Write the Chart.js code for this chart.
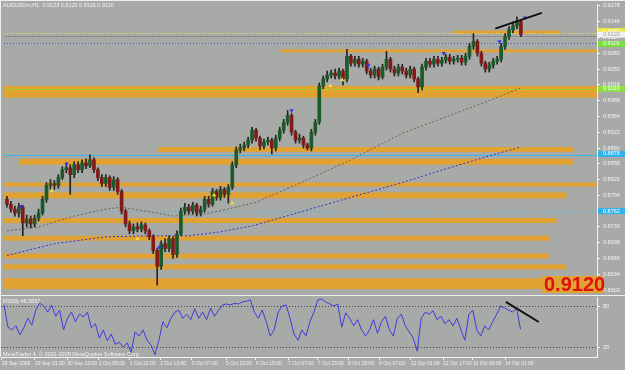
<!DOCTYPE html>
<html>
<head>
<meta charset="utf-8">
<script src="https://cdn.jsdelivr.net/npm/chart.js@4.4.1/dist/chart.umd.min.js"></script>
<style>
body { margin: 0; background: #a8aaa7; }
#wrap { position: relative; width: 625px; height: 370px; overflow: hidden; }
#main { position: absolute; left: 0; top: 0; }
#rsi { position: absolute; left: 0; top: 296px; }
</style>
</head>
<body>
<div id="wrap">
  <canvas id="main" width="625" height="296"></canvas>
  <canvas id="rsi" width="625" height="74"></canvas>
</div>
<script>
// AUDUSDm H1 candles (one candle per slot)
const candleOpen = [
  0.8786,0.8776,0.8766,0.8758,0.8770,0.8738,0.8746,0.8736,0.8748,0.8758,
  0.8786,0.8814,0.8818,0.8814,0.8830,0.8846,0.8850,0.8836,0.8856,0.8846,
  0.8860,0.8854,0.8866,0.8846,0.8830,0.8818,0.8830,0.8810,0.8826,0.8802,
  0.8762,0.8736,0.8722,0.8730,0.8726,0.8734,0.8722,0.8710,0.8682,0.8650,
  0.8696,0.8686,0.8706,0.8674,0.8716,0.8762,0.8770,0.8762,0.8774,0.8758,
  0.8766,0.8786,0.8776,0.8802,0.8790,0.8806,0.8796,0.8810,0.8856,0.8886,
  0.8890,0.8896,0.8906,0.8926,0.8910,0.8894,0.8902,0.8906,0.8890,0.8910,
  0.8926,0.8942,0.8956,0.8922,0.8906,0.8910,0.8896,0.8890,0.8922,0.8942,
  0.9016,0.9030,0.9038,0.9042,0.9036,0.9046,0.9030,0.9076,0.9062,0.9070,
  0.9060,0.9066,0.9046,0.9038,0.9050,0.9034,0.9054,0.9070,0.9050,0.9042,
  0.9054,0.9046,0.9038,0.9050,0.9030,0.9014,0.9054,0.9066,0.9060,0.9070,
  0.9062,0.9068,0.9074,0.9066,0.9070,0.9072,0.9064,0.9076,0.9096,0.9106,
  0.9082,0.9062,0.9050,0.9058,0.9066,0.9070,0.9096,0.9116,0.9130,0.9138,
  0.9146
];
const candleHigh = [
  0.8792,0.8782,0.8772,0.8778,0.8774,0.8754,0.8752,0.8754,0.8766,0.8792,
  0.8820,0.8826,0.8824,0.8836,0.8852,0.8858,0.8856,0.8862,0.8862,0.8866,
  0.8868,0.8876,0.8870,0.8850,0.8836,0.8836,0.8834,0.8832,0.8830,0.8806,
  0.8766,0.8742,0.8736,0.8738,0.8740,0.8738,0.8726,0.8714,0.8686,0.8702,
  0.8706,0.8712,0.8710,0.8722,0.8768,0.8778,0.8776,0.8780,0.8778,0.8772,
  0.8792,0.8792,0.8808,0.8806,0.8812,0.8810,0.8816,0.8862,0.8892,0.8898,
  0.8902,0.8912,0.8932,0.8930,0.8914,0.8908,0.8912,0.8910,0.8916,0.8932,
  0.8948,0.8966,0.8960,0.8926,0.8918,0.8914,0.8900,0.8928,0.8948,0.9022,
  0.9036,0.9046,0.9048,0.9050,0.9052,0.9050,0.9090,0.9080,0.9076,0.9076,
  0.9072,0.9070,0.9052,0.9056,0.9054,0.9060,0.9086,0.9074,0.9056,0.9060,
  0.9060,0.9052,0.9056,0.9054,0.9034,0.9060,0.9072,0.9072,0.9076,0.9076,
  0.9074,0.9080,0.9080,0.9076,0.9078,0.9078,0.9082,0.9102,0.9122,0.9110,
  0.9086,0.9066,0.9064,0.9072,0.9076,0.9102,0.9122,0.9136,0.9146,0.9156,
  0.9150
];
const candleLow = [
  0.8770,0.8760,0.8752,0.8750,0.8712,0.8730,0.8728,0.8730,0.8742,0.8754,
  0.8780,0.8806,0.8806,0.8808,0.8826,0.8840,0.8796,0.8830,0.8840,0.8840,
  0.8848,0.8850,0.8840,0.8824,0.8812,0.8812,0.8804,0.8804,0.8796,0.8756,
  0.8730,0.8716,0.8716,0.8720,0.8720,0.8716,0.8704,0.8676,0.8612,0.8644,
  0.8680,0.8680,0.8666,0.8668,0.8712,0.8756,0.8756,0.8756,0.8752,0.8752,
  0.8760,0.8770,0.8772,0.8784,0.8784,0.8790,0.8778,0.8806,0.8850,0.8880,
  0.8884,0.8890,0.8900,0.8904,0.8886,0.8888,0.8896,0.8878,0.8884,0.8904,
  0.8920,0.8936,0.8916,0.8900,0.8900,0.8890,0.8886,0.8884,0.8916,0.8938,
  0.9010,0.9024,0.9032,0.9030,0.9030,0.9018,0.9024,0.9056,0.9056,0.9054,
  0.9054,0.9040,0.9032,0.9032,0.9028,0.9030,0.9048,0.9044,0.9036,0.9036,
  0.9040,0.9032,0.9032,0.9024,0.9002,0.9008,0.9048,0.9054,0.9054,0.9056,
  0.9056,0.9062,0.9060,0.9060,0.9064,0.9058,0.9058,0.9070,0.9090,0.9076,
  0.9056,0.9044,0.9044,0.9052,0.9060,0.9064,0.9090,0.9110,0.9124,0.9132,
  0.9116
];
const candleClose = [
  0.8776,0.8766,0.8758,0.8770,0.8738,0.8746,0.8736,0.8748,0.8758,0.8786,
  0.8814,0.8818,0.8814,0.8830,0.8846,0.8850,0.8836,0.8856,0.8846,0.8860,
  0.8854,0.8866,0.8846,0.8830,0.8818,0.8830,0.8810,0.8826,0.8802,0.8762,
  0.8736,0.8722,0.8730,0.8726,0.8734,0.8722,0.8710,0.8682,0.8650,0.8696,
  0.8686,0.8706,0.8674,0.8716,0.8762,0.8770,0.8762,0.8774,0.8758,0.8766,
  0.8786,0.8776,0.8802,0.8790,0.8806,0.8796,0.8810,0.8856,0.8886,0.8890,
  0.8896,0.8906,0.8926,0.8910,0.8894,0.8902,0.8906,0.8890,0.8910,0.8926,
  0.8942,0.8956,0.8922,0.8906,0.8910,0.8896,0.8890,0.8922,0.8942,0.9016,
  0.9030,0.9038,0.9042,0.9036,0.9046,0.9030,0.9076,0.9062,0.9070,0.9060,
  0.9066,0.9046,0.9038,0.9050,0.9034,0.9054,0.9070,0.9050,0.9042,0.9054,
  0.9046,0.9038,0.9050,0.9030,0.9014,0.9054,0.9066,0.9060,0.9070,0.9062,
  0.9068,0.9074,0.9066,0.9070,0.9072,0.9064,0.9076,0.9096,0.9106,0.9082,
  0.9062,0.9050,0.9058,0.9066,0.9070,0.9096,0.9116,0.9130,0.9138,0.9146,
  0.9120
];

// RSI(9), same slots as the candles
const rsiValues = [
  81.5,49,45,51,38,48,62,52,74,84,
  80,71,81,65,74,45,62,71,57,68,
  64,71,48,54,33,45,29,39,24,27,
  20,26,12,42,36,45,30,23,9,30,
  57,48,62,71,74,62,68,60,76,62,
  71,60,77,65,74,81.5,83,81.5,84,83,
  86,87,89,71,62,74,57,36,45,71,
  80,81.5,62,39,30,45,36,57,71,89,
  90,86,83,80,83,49,70,62,51,60,
  45,36,45,60,40,57,65,45,36,62,
  68,51,42,33,14,62,71,68,73,60,
  65,54,60,51,62,45,30,68,74,45,
  36,51,45,57,68,80,77,74,71,77,
  46
];

// moving averages (dotted), read at a few slots
const maSlowIdx = [0, 8, 17, 25, 29, 35, 42, 50, 58, 63, 75, 87, 100, 112, 122, 130];
const maSlowVal = [0.8722, 0.8730, 0.8752, 0.8766, 0.8770, 0.8762, 0.8752, 0.8756, 0.8770, 0.8780, 0.8822, 0.8866, 0.8920, 0.8956, 0.8986, 0.9012];
const maFastIdx = [0, 12, 25, 37, 46, 54, 62, 75, 87, 100, 112, 122, 130];
const maFastVal = [0.8672, 0.8696, 0.8710, 0.8712, 0.8712, 0.8720, 0.8732, 0.8762, 0.8790, 0.8820, 0.8850, 0.8874, 0.8892];

// fractal arrows
const upMarkIdx = [11.3, 33, 52.4, 57, 81.8, 84.8];
const upMarkVal = [0.8804, 0.8706, 0.8794, 0.8778, 0.9016, 0.9028];
const downMarkIdx = [3.5, 15.1, 38.5, 72, 91.4, 110.5, 124.6, 131];
const downMarkVal = [0.8772, 0.8858, 0.8688, 0.8966, 0.9058, 0.9082, 0.9106, 0.9154];

// drawn trend lines
const trendIdx = [123.5, 135.3];
const trendVal = [0.9132, 0.9164];
const rsiTrendIdx = [126.3, 134.6];
const rsiTrendVal = [85.9, 56.6];

// support / resistance zones: [top, bottom, fromSlot, toSlot]
const zones = [
  [0.9128, 0.9122, 113, 140],
  [0.9090, 0.9084, 69.2, 150],
  [0.9016, 0.8992, -1, 150],
  [0.8892, 0.8882, 38.3, 143.2],
  [0.8868, 0.8856, 3, 143.2],
  [0.8820, 0.8812, -1, 150],
  [0.8800, 0.8788, -1, 141.5],
  [0.8748, 0.8738, -1, 139],
  [0.8712, 0.8702, -1, 137.2],
  [0.8676, 0.8666, -1, 137.2],
  [0.8654, 0.8644, -1, 141.5],
  [0.8626, 0.8604, -1, 140]
];
const levelPrices = [0.9124, 0.9118, 0.9102, 0.9010, 0.8876, 0.8762];
const axisBoxPrices = [0.9127, 0.9120, 0.9101, 0.9010, 0.8878, 0.8762];
const axisBoxTexts = ['0.9127', '0.9120', '0.9101', '0.9010', '0.8878', '0.8762'];

const priceTicks = [0.9178, 0.9146, 0.9114, 0.9082, 0.9050, 0.9018, 0.8986, 0.8954, 0.8922, 0.8890,
  0.8858, 0.8826, 0.8794, 0.8762, 0.8730, 0.8698, 0.8666, 0.8634, 0.8602];
const rsiLevels = [80, 20];

const dateTickIdx = [-0.5, 7.8, 15.9, 23.9, 31.7, 39.3, 47.3, 55.9, 63.4, 71.5, 79, 86.6, 94.4, 102.4, 110.5, 118, 126.1];
const dateLabels = ['29 Sep 2009', '29 Sep 21:00', '30 Sep 13:00', '1 Oct 05:00', '1 Oct 21:00', '2 Oct 13:00',
  '5 Oct 07:00', '5 Oct 23:00', '6 Oct 15:00', '7 Oct 07:00', '7 Oct 23:00', '8 Oct 15:00', '9 Oct 07:00',
  '12 Oct 01:00', '12 Oct 17:00', '13 Oct 09:00', '14 Oct 01:00'];

const BG = '#a8aaa7';
const ZONE = '#e2a232';
const FONT = 'Liberation Sans';
const levelStyle = [
  { c: '#f2e63a', d: [1, 2] },
  { c: '#8c8e8c', d: [] },
  { c: '#3a5ad8', d: [1, 2] },
  { c: '#a6d22a', d: [] },
  { c: '#3cb2ea', d: [] },
  { c: '#3cb8f0', d: [1, 2] }
];
const boxColors = ['#f2ea3c', '#f2f2f2', '#7ade3c', '#8ee040', '#2eb2ee', '#2eb2ee'];

const X_MIN = -0.75, X_MAX = 149.25;

const slots = candleClose.map((_, i) => i);
const isBull = slots.map(i => candleClose[i] >= candleOpen[i]);
const pts = (xs, ys) => xs.map((v, i) => ({ x: v, y: ys[i] }));

const mainDeco = {
  id: 'mainDeco',
  beforeDraw(c) {
    const ctx = c.ctx;
    ctx.save();
    ctx.fillStyle = BG;
    ctx.fillRect(0, 0, c.width, c.height);
    ctx.restore();
  },
  beforeDatasetsDraw(c) {
    const { ctx, chartArea: a, scales: { x, y } } = c;
    ctx.save();
    ctx.beginPath();
    ctx.rect(a.left, a.top, a.right - a.left, a.bottom - a.top);
    ctx.clip();
    ctx.fillStyle = ZONE;
    zones.forEach(([t, b, s, e]) => {
      const x0 = x.getPixelForValue(s), x1 = x.getPixelForValue(e);
      const y0 = y.getPixelForValue(t), y1 = y.getPixelForValue(b);
      ctx.fillRect(x0, y0, x1 - x0, y1 - y0);
    });
    levelPrices.forEach((p, i) => {
      const py = Math.round(y.getPixelForValue(p)) + 0.5;
      ctx.strokeStyle = levelStyle[i].c;
      ctx.setLineDash(levelStyle[i].d);
      ctx.lineWidth = 1;
      ctx.beginPath();
      ctx.moveTo(a.left, py);
      ctx.lineTo(a.right, py);
      ctx.stroke();
    });
    ctx.restore();
  },
  afterDraw(c) {
    const { ctx, chartArea: a, scales: { y } } = c;
    ctx.save();
    // price boxes on the axis
    ctx.font = '5.5px "' + FONT + '"';
    ctx.textBaseline = 'middle';
    axisBoxPrices.forEach((p, i) => {
      const py = y.getPixelForValue(p);
      ctx.fillStyle = boxColors[i];
      ctx.fillRect(a.right + 1, py - 3, 27, 6);
      ctx.fillStyle = i === 1 ? '#9a9a9a' : '#ffffff';
      ctx.fillText(axisBoxTexts[i], a.right + 6, py);
    });
    // title
    ctx.fillStyle = '#f4f4f4';
    ctx.fillText('AUDUSDm,H1  0.9123 0.9125 0.9116 0.9120', 3, 5);
    // big price label
    ctx.fillStyle = ZONE;
    ctx.fillRect(541, 276, 63, 17);
    ctx.fillStyle = '#e01010';
    ctx.font = 'bold 20px "' + FONT + '"';
    ctx.textBaseline = 'alphabetic';
    ctx.fillText('0.9120', 544, 291);
    // frame
    ctx.strokeStyle = '#eeeeee';
    ctx.lineWidth = 1;
    ctx.beginPath();
    ctx.moveTo(0, 0.5); ctx.lineTo(c.width, 0.5);
    ctx.moveTo(0.5, 0); ctx.lineTo(0.5, c.height);
    ctx.moveTo(0, 295.5); ctx.lineTo(c.width, 295.5);
    ctx.stroke();
    ctx.restore();
  }
};

new Chart(document.getElementById('main'), {
  type: 'bar',
  data: {
    datasets: [
      { type: 'line', data: pts(trendIdx, trendVal), borderColor: '#101010', borderWidth: 2, pointRadius: 0 },
      { type: 'scatter', data: pts(downMarkIdx, downMarkVal), pointStyle: 'triangle', rotation: 180, radius: 2.5,
        backgroundColor: '#3434e0', borderColor: '#3434e0', borderWidth: 0 },
      { type: 'scatter', data: pts(upMarkIdx, upMarkVal), pointStyle: 'triangle', radius: 2.5,
        backgroundColor: '#f0e030', borderColor: '#f0e030', borderWidth: 0 },
      { data: slots.map(i => ({ x: i, y: [candleOpen[i], candleClose[i]] })), grouped: false, barThickness: 3,
        minBarLength: 1, backgroundColor: isBull.map(b => b ? '#1a5a2b' : '#821a1a') },
      { data: slots.map(i => ({ x: i, y: [candleLow[i], candleHigh[i]] })), grouped: false, barThickness: 1,
        backgroundColor: '#222222' },
      { type: 'line', data: pts(maSlowIdx, maSlowVal), borderColor: '#6a625a', borderWidth: 1, borderDash: [2, 2], pointRadius: 0 },
      { type: 'line', data: pts(maFastIdx, maFastVal), borderColor: '#3434cc', borderWidth: 1, borderDash: [2, 2], pointRadius: 0 }
    ]
  },
  options: {
    responsive: false,
    animation: false,
    devicePixelRatio: 1,
    events: [],
    layout: { padding: { left: 1, right: 0, top: 2, bottom: 2 } },
    plugins: { legend: { display: false }, tooltip: { enabled: false } },
    scales: {
      x: { type: 'linear', display: false, min: X_MIN, max: X_MAX, offset: false, grid: { offset: false } },
      y: {
        position: 'right',
        min: 0.8598,
        max: 0.9182,
        afterBuildTicks(s) { s.ticks = priceTicks.map(v => ({ value: v })); },
        afterFit(s) { s.width = 28; s.paddingTop = 0; s.paddingBottom = 0; },
        ticks: { color: '#f4f4f4', padding: 3, font: { family: FONT, size: 5.5 }, callback: v => v.toFixed(4) },
        grid: { drawOnChartArea: false, tickLength: 3, color: '#f4f4f4' },
        border: { color: '#f4f4f4', width: 1 }
      }
    }
  },
  plugins: [mainDeco]
});

const rsiDeco = {
  id: 'rsiDeco',
  beforeDraw(c) {
    const ctx = c.ctx;
    ctx.save();
    ctx.fillStyle = BG;
    ctx.fillRect(0, 0, c.width, c.height);
    ctx.restore();
  },
  beforeDatasetsDraw(c) {
    const { ctx, chartArea: a, scales: { y } } = c;
    ctx.save();
    ctx.strokeStyle = '#4a3e3e';
    ctx.setLineDash([1, 2]);
    ctx.lineWidth = 1;
    rsiLevels.forEach(v => {
      const py = Math.round(y.getPixelForValue(v)) + 0.5;
      ctx.beginPath();
      ctx.moveTo(a.left, py);
      ctx.lineTo(a.right, py);
      ctx.stroke();
    });
    ctx.restore();
  },
  afterDraw(c) {
    const ctx = c.ctx;
    ctx.save();
    ctx.fillStyle = '#f4f4f4';
    ctx.font = '5.5px "' + FONT + '"';
    ctx.textBaseline = 'middle';
    ctx.fillText('RSI(9) 46.3597', 3, 5);
    ctx.fillText('MetaTrader 4, \u00a9 2001-2009 MetaQuotes Software Corp.', 3, 58);
    ctx.strokeStyle = '#eeeeee';
    ctx.beginPath();
    ctx.moveTo(0.5, 0); ctx.lineTo(0.5, 61);
    ctx.stroke();
    ctx.restore();
  }
};

new Chart(document.getElementById('rsi'), {
  type: 'line',
  data: {
    datasets: [
      { data: pts(rsiTrendIdx, rsiTrendVal), borderColor: '#101010', borderWidth: 2, pointRadius: 0 },
      { data: pts(slots, rsiValues), borderColor: '#3c3cdc', borderWidth: 1, pointRadius: 0, tension: 0 }
    ]
  },
  options: {
    responsive: false,
    animation: false,
    devicePixelRatio: 1,
    events: [],
    layout: { padding: { left: 1, right: 0, top: 1, bottom: 0 } },
    plugins: { legend: { display: false }, tooltip: { enabled: false } },
    scales: {
      x: {
        type: 'linear',
        min: X_MIN,
        max: X_MAX,
        afterBuildTicks(s) { s.ticks = dateTickIdx.map(v => ({ value: v })); },
        afterFit(s) { s.height = 13; s.paddingLeft = 0; s.paddingRight = 0; },
        ticks: {
          color: '#f4f4f4', padding: 1, align: 'start', autoSkip: false, maxRotation: 0, minRotation: 0,
          font: { family: FONT, size: 5 },
          callback: (v, i) => dateLabels[i]
        },
        grid: { drawOnChartArea: false, tickLength: 3, color: '#f4f4f4' },
        border: { color: '#f4f4f4', width: 1 }
      },
      y: {
        position: 'right',
        min: 5.37,
        max: 93.17,
        afterBuildTicks(s) { s.ticks = rsiLevels.map(v => ({ value: v })); },
        afterFit(s) { s.width = 28; s.paddingTop = 0; s.paddingBottom = 0; },
        ticks: { color: '#f4f4f4', padding: 3, font: { family: FONT, size: 5.5 }, callback: v => String(v) },
        grid: { drawOnChartArea: false, tickLength: 3, color: '#f4f4f4' },
        border: { color: '#f4f4f4', width: 1 }
      }
    }
  },
  plugins: [rsiDeco]
});
</script>
</body>
</html>
